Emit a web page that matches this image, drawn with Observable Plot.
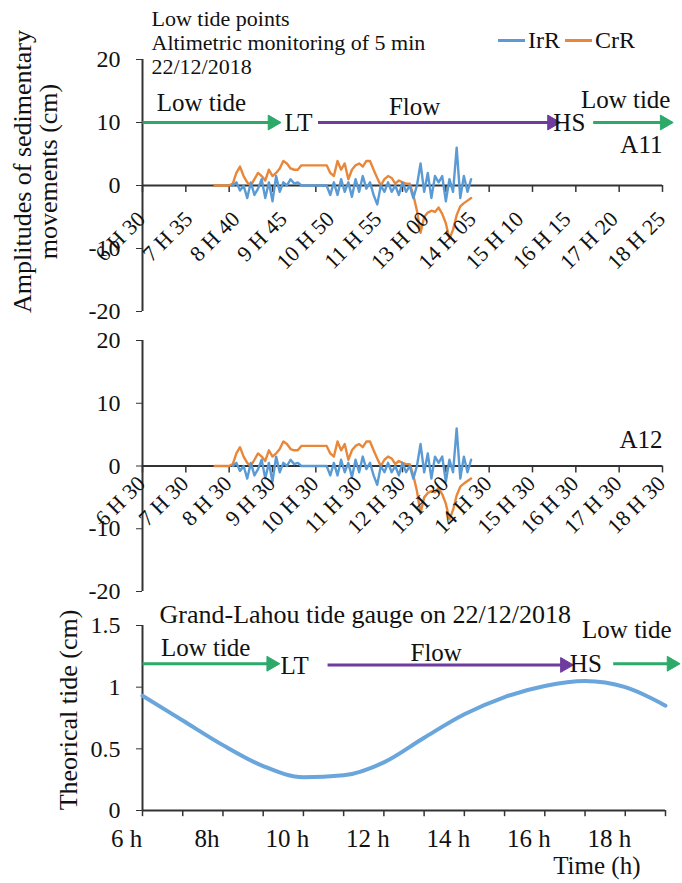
<!DOCTYPE html>
<html><head><meta charset="utf-8">
<script src="https://cdn.jsdelivr.net/npm/d3@7"></script>
<script src="https://cdn.jsdelivr.net/npm/@observablehq/plot@0.6"></script>
<style>
body{margin:0;background:#fff;}
#wrap{position:relative;width:682px;height:883px;font-family:"Liberation Serif","Times New Roman",serif;color:#111;}
#wrap svg{position:absolute;left:0;overflow:visible;font-family:"Liberation Serif","Times New Roman",serif !important;}
#wrap svg text{font-family:"Liberation Serif","Times New Roman",serif !important;}
#legend{position:absolute;left:498px;top:27px;font-size:24px;display:flex;align-items:center;gap:3px;}
#legend i{display:inline-block;width:27px;height:3px;}
</style></head><body><div id="wrap"><div id="legend"></div></div>
<script>
// ---------- data ----------
const sampleTimes = ["8:10","8:15","8:20","8:25","8:30","8:35","8:40","8:45","8:50","8:55",
"9:00","9:05","9:10","9:15","9:20","9:25","9:30","9:35","9:40","9:45","9:50","9:55",
"10:00","10:05","10:10","10:15","10:20","10:25","10:30","10:35","10:40","10:45","10:50","10:55",
"11:00","11:05","11:10","11:15","11:20","11:25","11:30","11:35","11:40","11:45","11:50","11:55",
"12:00","12:05","12:10","12:15","12:20","12:25","12:30","12:35","12:40","12:45","12:50","12:55",
"13:00","13:05","13:10","13:15","13:20","13:25","13:30","13:35","13:40","13:45","13:50","13:55",
"14:00","14:05"];
const irR = [null,null,null,null,null,0,0.5,-0.8,0,-2,0.5,-1.5,-0.5,1,-2,0.5,-2.5,1.5,-1,0.5,
0,1,0.3,0.5,0,0,0,0,0,0,0,0,-1.5,0.5,-1.5,1,-1,0.5,-1.8,1,-1,1.5,-0.5,0.5,-1.5,-3,0,-1,0.5,-1,
0,-1.5,0.5,-1,0,-2,0,3.5,-1,2,-2,1.5,0.5,1.5,-2.5,1,-1,6,-2,1.5,-1,1];
const crR = [0,0,0,0,0,0.3,2,3,1.5,0.5,0,1,2,1.5,0.8,2.5,1.5,2,2.7,3.9,3.5,2.7,2.5,2.5,3.2,3.2,
3.2,3.2,3.2,3.2,3.2,3.2,2,1.5,3.9,2.5,3.5,1,2.5,3.2,3.5,3,3.9,3.9,2.5,1.2,0,1,1.5,1.2,0.3,0.8,
0.5,0.3,0.3,-1.5,-4,-7.5,-5,-4.3,-4,-4.2,-3.5,-4.5,-6,-8.5,-7,-4.7,-3.3,-2.8,-2.4,-2];

// panel tick labels
const topTickLabels = ["6 H 30","7 H 35","8 H 40","9 H 45","10 H 50","11 H 55","13 H 00","14 H 05","15 H 10","16 H 15","17 H 20","18 H 25"];
const midTickLabels = ["6 H 30","7 H 30","8 H 30","9 H 30","10 H 30","11 H 30","12 H 30","13 H 30","14 H 30","15 H 30","16 H 30","17 H 30","18 H 30"];
const hourTicks = [6.5,7.5,8.5,9.5,10.5,11.5,12.5,13.5,14.5,15.5,16.5,17.5,18.5];
const ampTicks = [20,10,0,-10,-20];

// tide gauge
const tideHours = [6,7,8,9,10,11,12,13,14,15,16,17,18,19];
const tideValues = [0.93,0.73,0.53,0.36,0.27,0.285,0.39,0.59,0.78,0.92,1.01,1.05,1.0,0.85];
const tideTickHours = [6,7,8,9,10,11,12,13,14,15,16,17,18,19];
const tideLabelHours = [6,8,10,12,14,16,18];
const tideLabels = ["6 h","8h","10 h","12 h","14 h","16 h","18 h"];
const tideYTicks = [0,0.5,1,1.5];

// annotations (phase arrows), in data units
const topArrows = [{x1:6.5,x2:9.5,y:10,c:"green"},{x1:10.55,x2:15.95,y:10,c:"purple"},{x1:16.9,x2:18.55,y:10,c:"green"}];
const topNotes = [{x:7.86,y:13.1,t:"Low tide"},{x:10.1,y:9.9,t:"LT"},{x:12.78,y:12.5,t:"Flow"},
{x:16.35,y:9.9,t:"HS"},{x:17.65,y:13.5,t:"Low tide"}];
const tideArrows = [{x1:6,x2:9.2,y:1.19,c:"green"},{x1:10.6,x2:16.5,y:1.18,c:"purple"},{x1:17.7,x2:19.15,y:1.19,c:"green"}];
const tideNotes = [{x:7.57,y:1.32,t:"Low tide"},{x:9.78,y:1.17,t:"LT"},{x:13.3,y:1.28,t:"Flow"},
{x:17.02,y:1.19,t:"HS"},{x:18.04,y:1.46,t:"Low tide"}];

const colors = {IrR:"#5b9bd5", CrR:"#e8873a", green:"#2daa6a", purple:"#6e3b9e", axis:"#333"};
const FONT = "'Liberation Serif', 'Times New Roman', serif";

const parseH = s => { const [h,m] = s.split(":").map(Number); return h + m/60; };
const series = sampleTimes.map((t,i) => ({t: parseH(t), irR: irR[i], crR: crR[i]}));

function arrowMarks(arr) {
  const col = d => colors[d.c];
  return [
    Plot.link(arr, {x1:"x1", x2:"x2", y1:"y", y2:"y", stroke: col, strokeWidth: 3}),
    Plot.dot(arr, {x:"x2", y:"y", symbol:"triangle", rotate:90, r:5.5, fill: col, stroke: col, strokeWidth:1})
  ];
}

function ampPanel(opts) {
  const marks = [
    Plot.ruleY([0], {stroke: colors.axis, strokeWidth: 2}),
    Plot.ruleX([6.5], {stroke: colors.axis, strokeWidth: 2}),
    Plot.axisY({ticks: ampTicks, tickFormat: d => String(d), tickSize: 6, tickPadding: 16, fontSize: 24, label: null, stroke: colors.axis}),
    Plot.ruleX(hourTicks, {x: d => d, y1: 0, y2: -1.1, stroke: colors.axis, strokeWidth: 1.5}),
    Plot.line(series, {x:"t", y:"crR", stroke: colors.CrR, strokeWidth: 2.4}),
    Plot.line(series.filter(d => d.irR != null), {x:"t", y:"irR", stroke: colors.IrR, strokeWidth: 2.4}),
    Plot.text(opts.labels, {x: (d,i) => opts.labelX(i), y: () => 0, text: d => d, rotate: -45, textAnchor: "end",
      dx: -1, dy: opts.labelDy, fontSize: 22}),
    Plot.text([opts.tag], {frameAnchor: "top-right", dx: 0, dy: opts.tagDy, text: d => d, fontSize: 25, textAnchor: "end"}),
    ...(opts.extra || [])
  ];
  return Plot.plot({
    width: 682, height: opts.height,
    marginLeft: 142, marginRight: 20, marginTop: opts.mt, marginBottom: opts.mb,
    x: {domain: [6.5, 18.5], axis: null},
    y: {domain: [-20, 20], axis: null},
    style: {fontFamily: FONT, fontSize: "22px", color: "#111", background: "transparent", overflow: "visible"},
    marks
  });
}

const wrap = document.getElementById("wrap");

// Top panel
const p1 = ampPanel({
  height: 330, mt: 59, mb: 19,
  labels: topTickLabels, labelX: i => 6.5 + i * 12 / 11, labelDy: 30,
  tag: "A11", tagDy: 76,
  extra: [
    ...arrowMarks(topArrows),
    Plot.text(topNotes, {x:"x", y:"y", text:"t", fontSize: 25}),
    Plot.text(["Low tide points\nAltimetric monitoring of 5 min\n22/12/2018"], {frameAnchor: "top-left", dx: 9, dy: -50,
      lineAnchor: "top", lineHeight: 1.08, textAnchor: "start", fontSize: 22, text: d => d}),
    Plot.text(["Amplitudes of sedimentary\nmovements (cm)"], {frameAnchor: "left", dx: -107, dy: -14, rotate: -90,
      textAnchor: "middle", fontSize: 26, lineHeight: 1.0, text: d => d})
  ]
});
p1.style.top = "0px";
wrap.appendChild(p1);

// Middle panel
const p2 = ampPanel({
  height: 270, mt: 10, mb: 9,
  labels: midTickLabels, labelX: i => hourTicks[i], labelDy: 14,
  tag: "A12", tagDy: 90
});
p2.style.top = "330px";
wrap.appendChild(p2);

// Bottom panel
const tide = tideHours.map((h,i) => ({h, v: tideValues[i]}));
const p3 = Plot.plot({
  width: 682, height: 283,
  marginLeft: 142, marginRight: 17, marginTop: 25, marginBottom: 73,
  x: {domain: [6, 19], axis: null},
  y: {domain: [0, 1.5], axis: null},
  style: {fontFamily: FONT, fontSize: "22px", color: "#111", background: "transparent", overflow: "visible"},
  marks: [
    Plot.ruleY([0], {stroke: colors.axis, strokeWidth: 2}),
    Plot.ruleX([6], {stroke: colors.axis, strokeWidth: 2}),
    Plot.axisY({ticks: tideYTicks, tickFormat: d => String(d), tickSize: 6, tickPadding: 16, fontSize: 24, label: null, stroke: colors.axis}),
    Plot.ruleX(tideTickHours, {x: d => d, y1: 0, y2: -0.05, stroke: colors.axis, strokeWidth: 1.5}),
    Plot.text(tideLabelHours, {x: d => d, y: () => 0, text: (d,i) => tideLabels[i], dy: 28, dx: -16, fontSize: 25}),
    Plot.line(tide, {x:"h", y:"v", stroke: "#6aa5dc", strokeWidth: 4, curve: "monotone-x"}),
    ...arrowMarks(tideArrows),
    Plot.text(tideNotes, {x:"x", y:"y", text:"t", fontSize: 25}),
    Plot.text(["Grand-Lahou tide gauge on 22/12/2018"], {frameAnchor: "top-left", dx: 17, dy: -21, textAnchor: "start", fontSize: 26, text: d => d}),
    Plot.text(["Theorical tide (cm)"], {frameAnchor: "left", dx: -74, dy: -8, rotate: -90, textAnchor: "middle", fontSize: 26, text: d => d}),
    Plot.text(["Time (h)"], {frameAnchor: "bottom-right", dx: -25, dy: 63, textAnchor: "end", fontSize: 25, text: d => d})
  ]
});
p3.style.top = "600px";
wrap.appendChild(p3);

// Legend
const legend = document.getElementById("legend");
[["IrR", colors.IrR], ["CrR", colors.CrR]].forEach(([name, c]) => {
  const sw = document.createElement("i"); sw.style.background = c; legend.appendChild(sw);
  const s = document.createElement("span"); s.textContent = name; s.style.marginRight = "2px"; legend.appendChild(s);
});
</script>
</body></html>
